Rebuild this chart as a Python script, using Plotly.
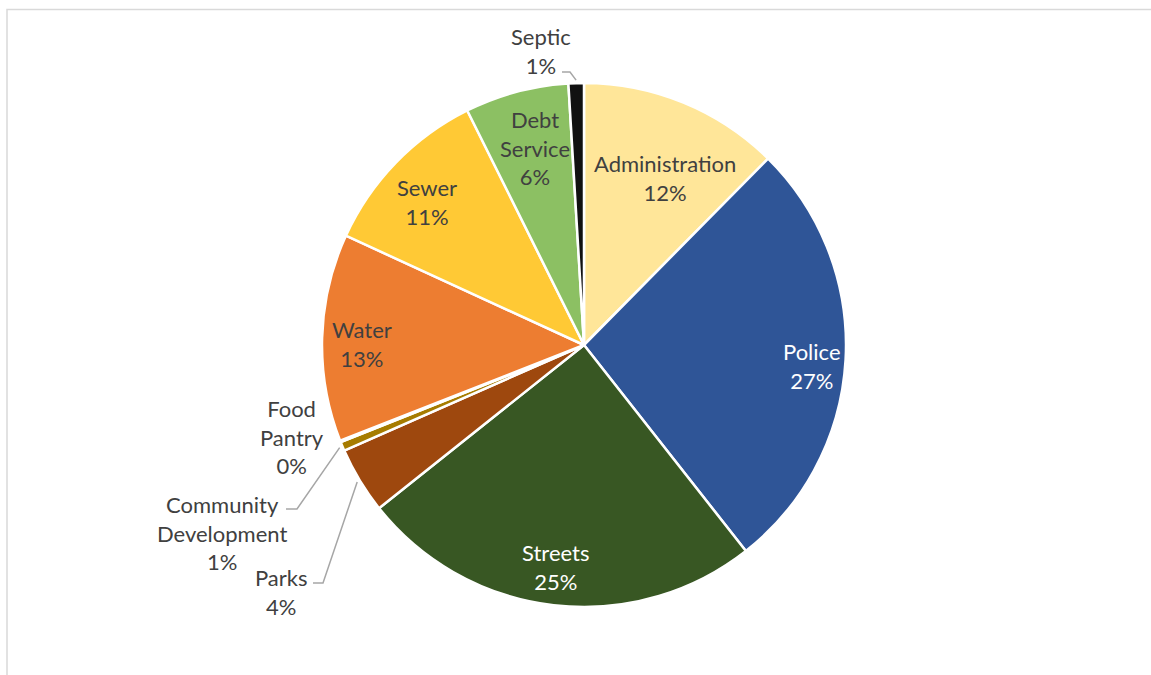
import math
import plotly.graph_objects as go

# Budget share by department (percent of total), clockwise from 12 o'clock
categories = ["Administration", "Police", "Streets", "Parks", "Community Development",
              "Food Pantry", "Water", "Sewer", "Debt Service", "Septic"]
values = [12.4, 27.0, 24.9, 4.1, 0.55, 0.1, 12.8, 10.8, 6.4, 0.95]
colors = ["#FFE699", "#2F5597", "#385723", "#9E480E", "#A67C00",
          "#7F6000", "#ED7D31", "#FFC935", "#8CC063", "#111111"]

W, H = 1151, 675
CX, CY, R = 584, 345, 262          # pie centre and radius in pixels
TEXT_DARK = "#404040"
FONT = "Lato"
FONT_SIZE = 22


def to_paper(px, py):
    return px / W, 1 - py / H


def polar(angle_deg, r):
    a = math.radians(angle_deg)
    return CX + r * math.sin(a), CY - r * math.cos(a)


total = sum(values)
mid_angle = {}
acc = 0.0
for name, v in zip(categories, values):
    start = acc / total * 360
    acc += v
    end = acc / total * 360
    mid_angle[name] = (start + end) / 2


def label_text(name, v):
    pct = math.floor(v / total * 100 + 0.5)
    return name.replace(" ", "<br>") + f"<br>{pct}%"


x0, y_top = to_paper(CX - R, CY - R)
x1, y_bot = to_paper(CX + R, CY + R)

fig = go.Figure(go.Pie(
    labels=categories,
    values=values,
    sort=False,
    direction="clockwise",
    rotation=0,
    marker=dict(colors=colors, line=dict(color="white", width=2.5)),
    textinfo="none",
    showlegend=False,
    domain=dict(x=[x0, x1], y=[y_bot, y_top]),
))

annotations = []
shapes = []

# labels drawn inside their slices: radial factor, angle nudge (deg), text colour
inside = {
    "Administration": (0.71, 3.6, TEXT_DARK),
    "Police": (0.874, 2.1, "white"),
    "Streets": (0.855, 0.7, "white"),
    "Water": (0.847, -1.4, TEXT_DARK),
    "Sewer": (0.81, -1.7, TEXT_DARK),
    "Debt Service": (0.775, 1.1, TEXT_DARK),
}
for name, (rf, nudge, col) in inside.items():
    px, py = polar(mid_angle[name] + nudge, R * rf)
    xp, yp = to_paper(px, py)
    annotations.append(dict(
        x=xp, y=yp, xref="paper", yref="paper", showarrow=False,
        text=label_text(name, values[categories.index(name)]),
        font=dict(family=FONT, size=FONT_SIZE, color=col),
        xanchor="center", yanchor="middle", align="center",
    ))

# labels placed outside: text centre, and leader line start/elbow (or None)
outside = {
    "Septic": ((541, 51), [(562, 72), (570, 72)]),
    "Food Pantry": ((292, 437), None),
    "Community Development": ((222, 533), [(286, 509), (297, 509)]),
    "Parks": ((281, 592), [(313, 583), (323, 583)]),
}
for name, ((lx, ly), leader) in outside.items():
    xp, yp = to_paper(lx, ly)
    annotations.append(dict(
        x=xp, y=yp, xref="paper", yref="paper", showarrow=False,
        text=label_text(name, values[categories.index(name)]),
        font=dict(family=FONT, size=FONT_SIZE, color=TEXT_DARK),
        xanchor="center", yanchor="middle", align="center",
    ))
    if leader:
        pts = leader + [polar(mid_angle[name], R + 3)]
        path = "M " + " L ".join(
            f"{to_paper(px, py)[0]:.5f},{to_paper(px, py)[1]:.5f}" for px, py in pts)
        shapes.append(dict(type="path", xref="paper", yref="paper", path=path,
                           line=dict(color="#A6A6A6", width=1.5)))

# chart area frame
bx0, by1 = to_paper(7, 9.5)
shapes.append(dict(type="rect", xref="paper", yref="paper",
                   x0=bx0, y0=-0.05, x1=1.05, y1=by1,
                   line=dict(color="#D9D9D9", width=1.5), layer="below"))

fig.update_layout(
    width=W, height=H,
    margin=dict(l=0, r=0, t=0, b=0),
    paper_bgcolor="white",
    plot_bgcolor="white",
    annotations=annotations,
    shapes=shapes,
)

fig.write_html("out.html")
